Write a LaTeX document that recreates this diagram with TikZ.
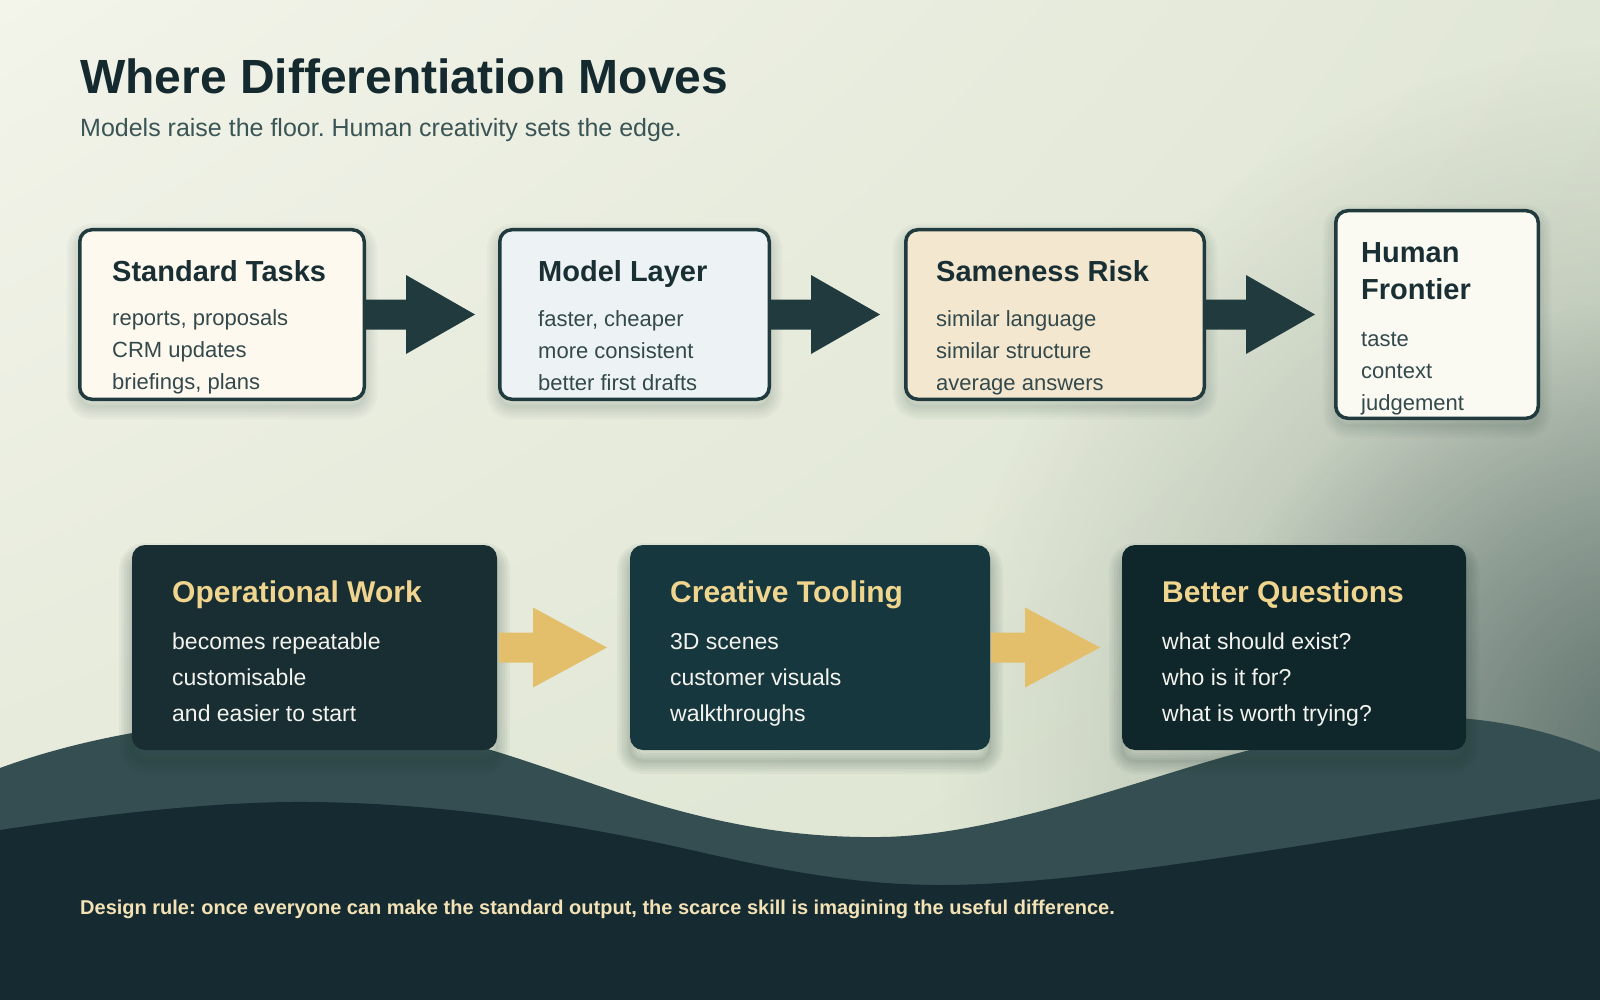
\documentclass[tikz,border=0pt]{standalone}
\usepackage{fontspec}
\setmainfont{Liberation Sans}
\usetikzlibrary{calc,fadings,shadings}
\tikzfading[name=vignfade, inner color=transparent!0, outer color=transparent!100]
\definecolor{bgTL}{HTML}{F3F4EA}
\definecolor{bgTR}{HTML}{E1E7D6}
\definecolor{bgBL}{HTML}{E2E8D7}
\definecolor{bgBR}{HTML}{DBE3CE}
\definecolor{vign}{HTML}{3B5252}
\definecolor{waveMid}{HTML}{344E52}
\definecolor{waveDark}{HTML}{162A31}
\definecolor{titleC}{HTML}{142A2F}
\definecolor{subC}{HTML}{3B5556}
\definecolor{boxLine}{HTML}{203A3E}
\definecolor{topTitle}{HTML}{1A2F33}
\definecolor{topBody}{HTML}{34494C}
\definecolor{fST}{HTML}{FDF9EE}
\definecolor{fML}{HTML}{EDF3F5}
\definecolor{fSR}{HTML}{F3E8CF}
\definecolor{fHF}{HTML}{FAFAF3}
\definecolor{fOW}{HTML}{192E33}
\definecolor{fCT}{HTML}{17373E}
\definecolor{fBQ}{HTML}{0F262B}
\definecolor{goldT}{HTML}{F0D58F}
\definecolor{bodyW}{HTML}{F3F3EE}
\definecolor{goldA}{HTML}{E3BF6C}
\definecolor{footC}{HTML}{F2E2B5}
\definecolor{shT}{HTML}{2C4A42}
\definecolor{shB}{HTML}{1E3833}
\newcommand\fatarrow[7]{%
  \fill[#2] ($(#1.east)+(#3,-#6)$) -- ($(#1.east)+(#4,-#6)$) -- ($(#1.east)+(#4,-#7)$)
    -- ($(#1.east)+(#5,0)$) -- ($(#1.east)+(#4,#7)$) -- ($(#1.east)+(#4,#6)$)
    -- ($(#1.east)+(#3,#6)$) -- cycle;}
\frenchspacing
\begin{document}
\begin{tikzpicture}[x=1pt,y=-1pt,
  tsh/.style={preaction={draw=shT, fill=none, draw opacity=0.03, line width=#1, transform canvas={yshift=-7pt}}},
  bsh/.style={preaction={draw=shB, fill=none, draw opacity=0.045, line width=#1, transform canvas={yshift=-11pt}}},
  topbox/.style={tsh=26pt, tsh=21pt, tsh=16pt, tsh=11pt, tsh=6pt, tsh=2pt,
    draw=boxLine, line width=3.5pt, rounded corners=12pt, inner sep=0pt},
  botbox/.style={bsh=26pt, bsh=21pt, bsh=16pt, bsh=11pt, bsh=6pt, bsh=2pt,
    rounded corners=13pt, inner sep=0pt, outer sep=0pt},
  ttitle/.style={anchor=base west, inner sep=0pt, font=\fontsize{29}{34}\selectfont\bfseries, text=topTitle},
  tbody/.style={anchor=base west, inner sep=0pt, font=\fontsize{22}{26}\selectfont, text=topBody},
  btitle/.style={anchor=base west, inner sep=0pt, font=\fontsize{30}{35}\selectfont\bfseries, text=goldT},
  bbody/.style={anchor=base west, inner sep=0pt, font=\fontsize{23}{27}\selectfont, text=bodyW},
]
\useasboundingbox (0,0) rectangle (1600,1000);
% background
\shade[upper left=bgTL, upper right=bgTR, lower left=bgBL, lower right=bgBR] (0,0) rectangle (1600,1000);
\begin{scope}
\clip (0,0) rectangle (1600,1000);
\fill[vign, fill opacity=0.45, path fading=vignfade] (1660,760) circle (720pt);
\fill[vign, fill opacity=0.6, path fading=vignfade] (1660,760) circle (460pt);
\end{scope}
% waves
\fill[waveMid] (0,768) .. controls (90,735) and (200,718) .. (300,718)
  .. controls (420,718) and (520,760) .. (620,793)
  .. controls (720,826) and (800,838) .. (880,837)
  .. controls (1000,836) and (1150,775) .. (1250,750)
  .. controls (1320,733) and (1370,718) .. (1420,717)
  .. controls (1500,716) and (1560,735) .. (1600,752)
  -- (1600,1000) -- (0,1000) -- cycle;
\fill[waveDark] (0,830) .. controls (100,815) and (200,803) .. (290,802)
  .. controls (420,801) and (560,820) .. (700,852)
  .. controls (800,875) and (870,885) .. (940,885)
  .. controls (1100,885) and (1350,835) .. (1600,799)
  -- (1600,1000) -- (0,1000) -- cycle;
% heading
\node[anchor=base west, inner sep=0pt, font=\fontsize{48}{56}\selectfont\bfseries, text=titleC] (title) at (80,94) {Where Differentiation Moves};
\node[anchor=base west, inner sep=0pt, font=\fontsize{25}{30}\selectfont, text=subC] (subtitle) at (80,137) {Models raise the floor. Human creativity sets the edge.};
% top boxes
\node[topbox, fill=fST, minimum width=284.5, minimum height=169.5] (st) at (222,314.5) {};
\node[topbox, fill=fML, minimum width=269.5, minimum height=169.5] (ml) at (634.5,314.5) {};
\node[topbox, fill=fSR, minimum width=298.5, minimum height=169.5] (sr) at (1055,314.5) {};
\node[topbox, fill=fHF, minimum width=202.5, minimum height=207.5] (hf) at (1437,314.5) {};
\node[ttitle] (st-t) at (112,282) {Standard Tasks};
\node[tbody] (st-1) at (112,325) {reports, proposals};
\node[tbody] (st-2) at (112,357) {CRM updates};
\node[tbody] (st-3) at (112,389) {briefings, plans};
\node[ttitle] (ml-t) at (538,282) {Model Layer};
\node[tbody] (ml-1) at (538,326) {faster, cheaper};
\node[tbody] (ml-2) at (538,358) {more consistent};
\node[tbody] (ml-3) at (538,390) {better first drafts};
\node[ttitle] (sr-t) at (936,282) {Sameness Risk};
\node[tbody] (sr-1) at (936,326) {similar language};
\node[tbody] (sr-2) at (936,358) {similar structure};
\node[tbody] (sr-3) at (936,390) {average answers};
\node[ttitle] (hf-t1) at (1361,262) {Human};
\node[ttitle] (hf-t2) at (1361,299) {Frontier};
\node[tbody] (hf-1) at (1361,346) {taste};
\node[tbody] (hf-2) at (1361,378) {context};
\node[tbody] (hf-3) at (1361,410) {judgement};
% top arrows
\fatarrow{st}{boxLine}{0}{40}{109}{15}{39.5}
\fatarrow{ml}{boxLine}{0}{40}{109}{15}{39.5}
\fatarrow{sr}{boxLine}{0}{40}{109}{15}{39.5}
% bottom boxes
\node[botbox, fill=fOW, minimum width=365, minimum height=205] (ow) at (314.5,647.5) {};
\node[botbox, fill=fCT, minimum width=360, minimum height=205] (ct) at (810,647.5) {};
\node[botbox, fill=fBQ, minimum width=344, minimum height=205] (bq) at (1294,647.5) {};
\node[btitle] (ow-t) at (172,602) {Operational Work};
\node[bbody] (ow-1) at (172,649) {becomes repeatable};
\node[bbody] (ow-2) at (172,685) {customisable};
\node[bbody] (ow-3) at (172,721) {and easier to start};
\node[btitle] (ct-t) at (670,602) {Creative Tooling};
\node[bbody] (ct-1) at (670,649) {3D scenes};
\node[bbody] (ct-2) at (670,685) {customer visuals};
\node[bbody] (ct-3) at (670,721) {walkthroughs};
\node[btitle] (bq-t) at (1162,602) {Better Questions};
\node[bbody] (bq-1) at (1162,649) {what should exist?};
\node[bbody] (bq-2) at (1162,685) {who is it for?};
\node[bbody] (bq-3) at (1162,721) {what is worth trying?};
% bottom arrows
\fatarrow{ow}{goldA}{2}{36}{110}{15}{40}
\fatarrow{ct}{goldA}{1}{35}{110}{15}{40}
% footer
\node[anchor=base west, inner sep=0pt, font=\fontsize{20}{24}\selectfont\bfseries, text=footC] (rule) at (80,914) {Design rule: once everyone can make the standard output, the scarce skill is imagining the useful difference.};
\end{tikzpicture}
\end{document}
